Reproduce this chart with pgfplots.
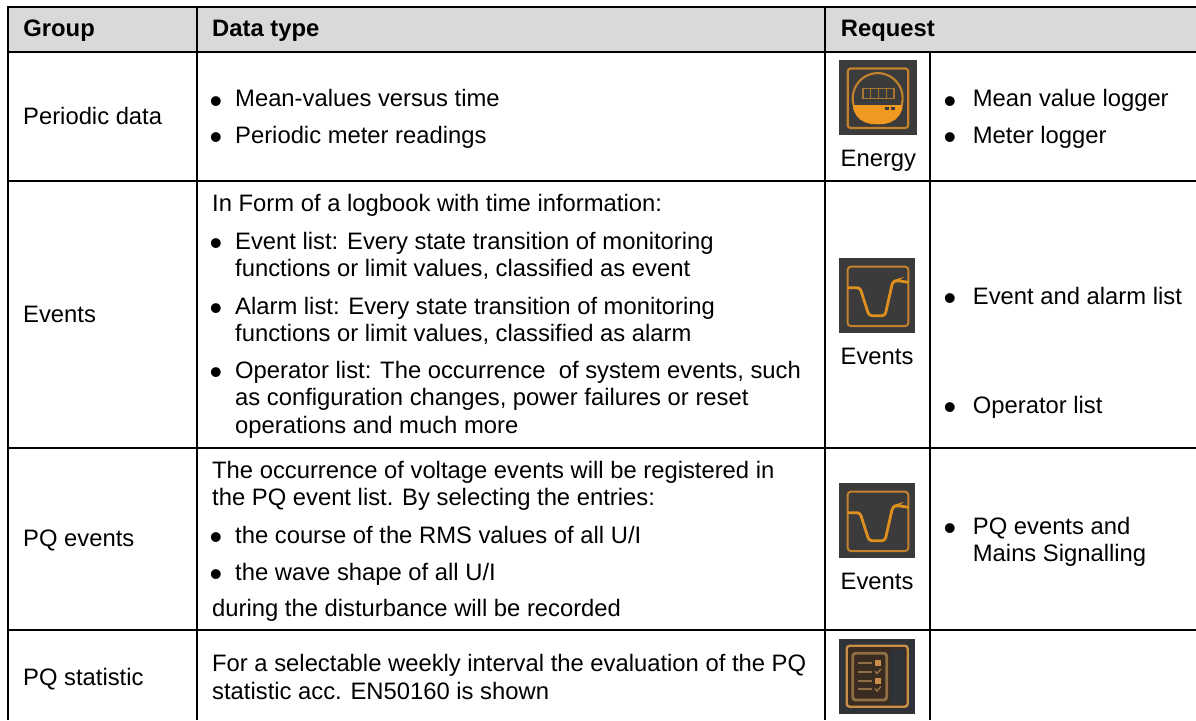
\documentclass[border=0pt]{standalone}
\usepackage{fontspec}
\setmainfont{Liberation Sans}
\usepackage{pgfplots}
\pgfplotsset{compat=1.18}
\definecolor{hdr}{HTML}{D9D9D9}
\definecolor{bgd}{HTML}{3B3B3B}
\definecolor{org}{HTML}{E0901F}
\definecolor{orgf}{HTML}{F0981F}
\definecolor{orgd}{HTML}{C4822C}
\definecolor{orgs}{HTML}{A8752F}
\definecolor{stbg}{HTML}{2F3338}
\definecolor{stfill}{HTML}{3A2C20}
\definecolor{stout}{HTML}{C98F48}
\definecolor{stin}{HTML}{8F6F45}
\newcommand\tf{\fontsize{23.8}{27}\selectfont}
\newcommand\T[3]{\node[anchor=base west,inner sep=0pt,font=\tf] at (axis cs:#1,#2) {#3};}
\newcommand\B[3]{\node[anchor=base west,inner sep=0pt,font=\tf\bfseries] at (axis cs:#1,#2) {#3};}
\newcommand\Bu[2]{\node[anchor=base,inner sep=0pt,font=\fontsize{36}{36}\selectfont] at (axis cs:#1,#2+6.6) {•};}
\begin{document}
\begin{tikzpicture}
\begin{axis}[
  scale only axis, width=1196pt, height=720pt,
  xmin=0, xmax=1196, ymin=0, ymax=720, y dir=reverse,
  hide axis,
  every axis plot post/.append style={mark=none},
]
% page and header
\addplot[fill=white,draw=none] coordinates {(0,0)(1196,0)(1196,720)(0,720)} --cycle;
\addplot[fill=hdr,draw=none] coordinates {(8,7)(1196,7)(1196,52)(8,52)} --cycle;
% horizontal rules
\addplot[black,line width=1.7pt] coordinates {(7,7)(1196,7)};
\addplot[black,line width=1.7pt] coordinates {(7,52)(1196,52)};
\addplot[black,line width=1.7pt] coordinates {(7,181)(1196,181)};
\addplot[black,line width=1.7pt] coordinates {(7,447.8)(1196,447.8)};
\addplot[black,line width=1.7pt] coordinates {(7,630)(1196,630)};
% vertical rules
\addplot[black,line width=1.7pt] coordinates {(8,7)(8,720)};
\addplot[black,line width=1.7pt] coordinates {(197,7)(197,720)};
\addplot[black,line width=1.7pt] coordinates {(825,7)(825,720)};
\addplot[black,line width=1.7pt] coordinates {(930,52)(930,720)};
% Energy icon
\addplot[fill=bgd,draw=none] coordinates {(839,60)(917,60)(917,135)(839,135)} --cycle;
\addplot[draw=orgd,line width=2.2pt,rounded corners=3pt] coordinates {(847.7,68.5)(908.3,68.5)(908.3,128)(847.7,128)} --cycle;
\addplot[fill=orgf,draw=none] coordinates {(852.7,105)(902.7,105)(902,110)(899.5,115)(895.5,119.5)(890,122.5)(884,124)(877.7,124.3)(871,124)(865.5,122.5)(860,119.5)(856,115)(853.5,110)} --cycle;
\addplot[draw=orgd,line width=2.1pt,smooth] coordinates {(902.7,98.5)(901.9,92)(899.4,85.8)(895.4,80.5)(890.2,76.5)(884.2,74)(877.7,73)(871.2,74)(865.2,76.5)(860,80.5)(856,85.8)(853.5,92)(852.7,98.5)(853.5,105)};
\addplot[draw=orgd,line width=2.1pt] coordinates {(902.7,98.5)(901.9,105)};
\addplot[draw=orgs,line width=1.8pt] coordinates {(863,88.5)(894,88.5)(894,98.5)(863,98.5)} --cycle;
\addplot[draw=orgs,line width=1.6pt] coordinates {(870.5,88.5)(870.5,98.5)};
\addplot[draw=orgs,line width=1.6pt] coordinates {(878.5,88.5)(878.5,98.5)};
\addplot[draw=orgs,line width=1.6pt] coordinates {(886.5,88.5)(886.5,98.5)};
\addplot[fill=bgd,draw=none] coordinates {(885,106.5)(888.5,106.5)(888.5,110)(885,110)} --cycle;
\addplot[fill=bgd,draw=none] coordinates {(891,106.5)(894.5,106.5)(894.5,110)(891,110)} --cycle;
% Events icon 1
\addplot[fill=bgd,draw=none] coordinates {(839,258)(915,258)(915,333)(839,333)} --cycle;
\addplot[draw=orgd,line width=2pt,rounded corners=3pt] coordinates {(847.7,266.7)(908.3,266.7)(908.3,326)(847.7,326)} --cycle;
\addplot[draw=org,line width=2.8pt,rounded corners=3pt] coordinates {(847.7,287.7)(860,287.7)(869,315.7)(885,315.7)(892.7,281.7)(896.7,280.5)(908.3,282.3)};
% Events icon 2
\addplot[fill=bgd,draw=none] coordinates {(839,483)(915,483)(915,558)(839,558)} --cycle;
\addplot[draw=orgd,line width=2pt,rounded corners=3pt] coordinates {(847.7,491.7)(908.3,491.7)(908.3,551)(847.7,551)} --cycle;
\addplot[draw=org,line width=2.8pt,rounded corners=3pt] coordinates {(847.7,512.7)(860,512.7)(869,540.7)(885,540.7)(892.7,506.7)(896.7,505.5)(908.3,507.3)};
% Statistic icon
\addplot[fill=stbg,draw=none] coordinates {(839,639)(915,639)(915,714)(839,714)} --cycle;
\addplot[fill=stfill,draw=stout,line width=2.4pt,rounded corners=3pt] coordinates {(846.7,645.7)(907.7,645.7)(907.7,706.7)(846.7,706.7)} --cycle;
\addplot[draw=stin,line width=2.8pt,rounded corners=3pt] coordinates {(852.7,653.3)(886.7,653.3)(886.7,700)(852.7,700)} --cycle;
\addplot[fill=stbg,draw=none] coordinates {(889.5,649)(905,649)(905,703.5)(889.5,703.5)} --cycle;
\addplot[draw=stin,line width=1.8pt] coordinates {(858,662.7)(871.7,662.7)};
\addplot[draw=stin,line width=1.8pt] coordinates {(858,671.7)(871.7,671.7)};
\addplot[draw=stin,line width=1.8pt] coordinates {(858,680.7)(871.7,680.7)};
\addplot[draw=stin,line width=1.8pt] coordinates {(858,689.3)(871.7,689.3)};
\addplot[fill=stout,draw=none] coordinates {(875,660)(881,660)(881,665.5)(875,665.5)} --cycle;
\addplot[fill=stout,draw=none] coordinates {(875,678)(881,678)(881,683.5)(875,683.5)} --cycle;
\addplot[draw=stin,line width=1.5pt] coordinates {(875,671)(877,673.5)(881,669)};
\addplot[draw=stin,line width=1.5pt] coordinates {(875,688.5)(877,691)(881,686.5)};
% header text
\B{23.2}{36}{Group}
\B{212}{36}{Data type}
\B{840.7}{36}{Request}
% column 1
\T{23}{124.3}{Periodic data}
\T{23}{322.7}{Events}
\T{23}{546.7}{PQ events}
\T{23}{685}{PQ statistic}
% column 2
\Bu{216}{106.7}\T{235}{106.7}{Mean-values versus time}
\Bu{216}{143.3}\T{235}{143.3}{Periodic meter readings}
\T{212}{211.7}{In Form of a logbook with time information:}
\Bu{216}{249}\T{235}{249}{Event list: Every state transition of monitoring}
\T{235}{276.7}{functions or limit values, classified as event}
\Bu{216}{314}\T{235}{314}{Alarm list: Every state transition of monitoring}
\T{235}{341.7}{functions or limit values, classified as alarm}
\Bu{216}{378.3}\T{235}{378.3}{Operator list: The occurrence\ \ of system events, such}
\T{235}{405.7}{as configuration changes, power failures or reset}
\T{235}{433.3}{operations and much more}
\T{212}{478.3}{The occurrence of voltage events will be registered in}
\T{212}{505.7}{the PQ event list. By selecting the entries:}
\Bu{216}{543.3}\T{235}{543.3}{the course of the RMS values of all U/I}
\Bu{216}{580}\T{235}{580}{the wave shape of all U/I}
\T{212}{616.7}{during the disturbance will be recorded}
\T{212}{671.7}{For a selectable weekly interval the evaluation of the PQ}
\T{212}{699}{statistic acc. EN50160 is shown}
% icon captions
\T{840.5}{166}{Energy}
\T{840.5}{364}{Events}
\T{840.5}{589.3}{Events}
% column 4
\Bu{950}{106.7}\T{972.7}{106.7}{Mean value logger}
\Bu{950}{143.3}\T{972.7}{143.3}{Meter logger}
\Bu{950}{304}\T{972.7}{304}{Event and alarm list}
\Bu{950}{413.3}\T{972.7}{413.3}{Operator list}
\Bu{950}{534.3}\T{972.7}{534.3}{PQ events and}
\T{972.7}{561.7}{Mains Signalling}
\end{axis}
\end{tikzpicture}
\end{document}
